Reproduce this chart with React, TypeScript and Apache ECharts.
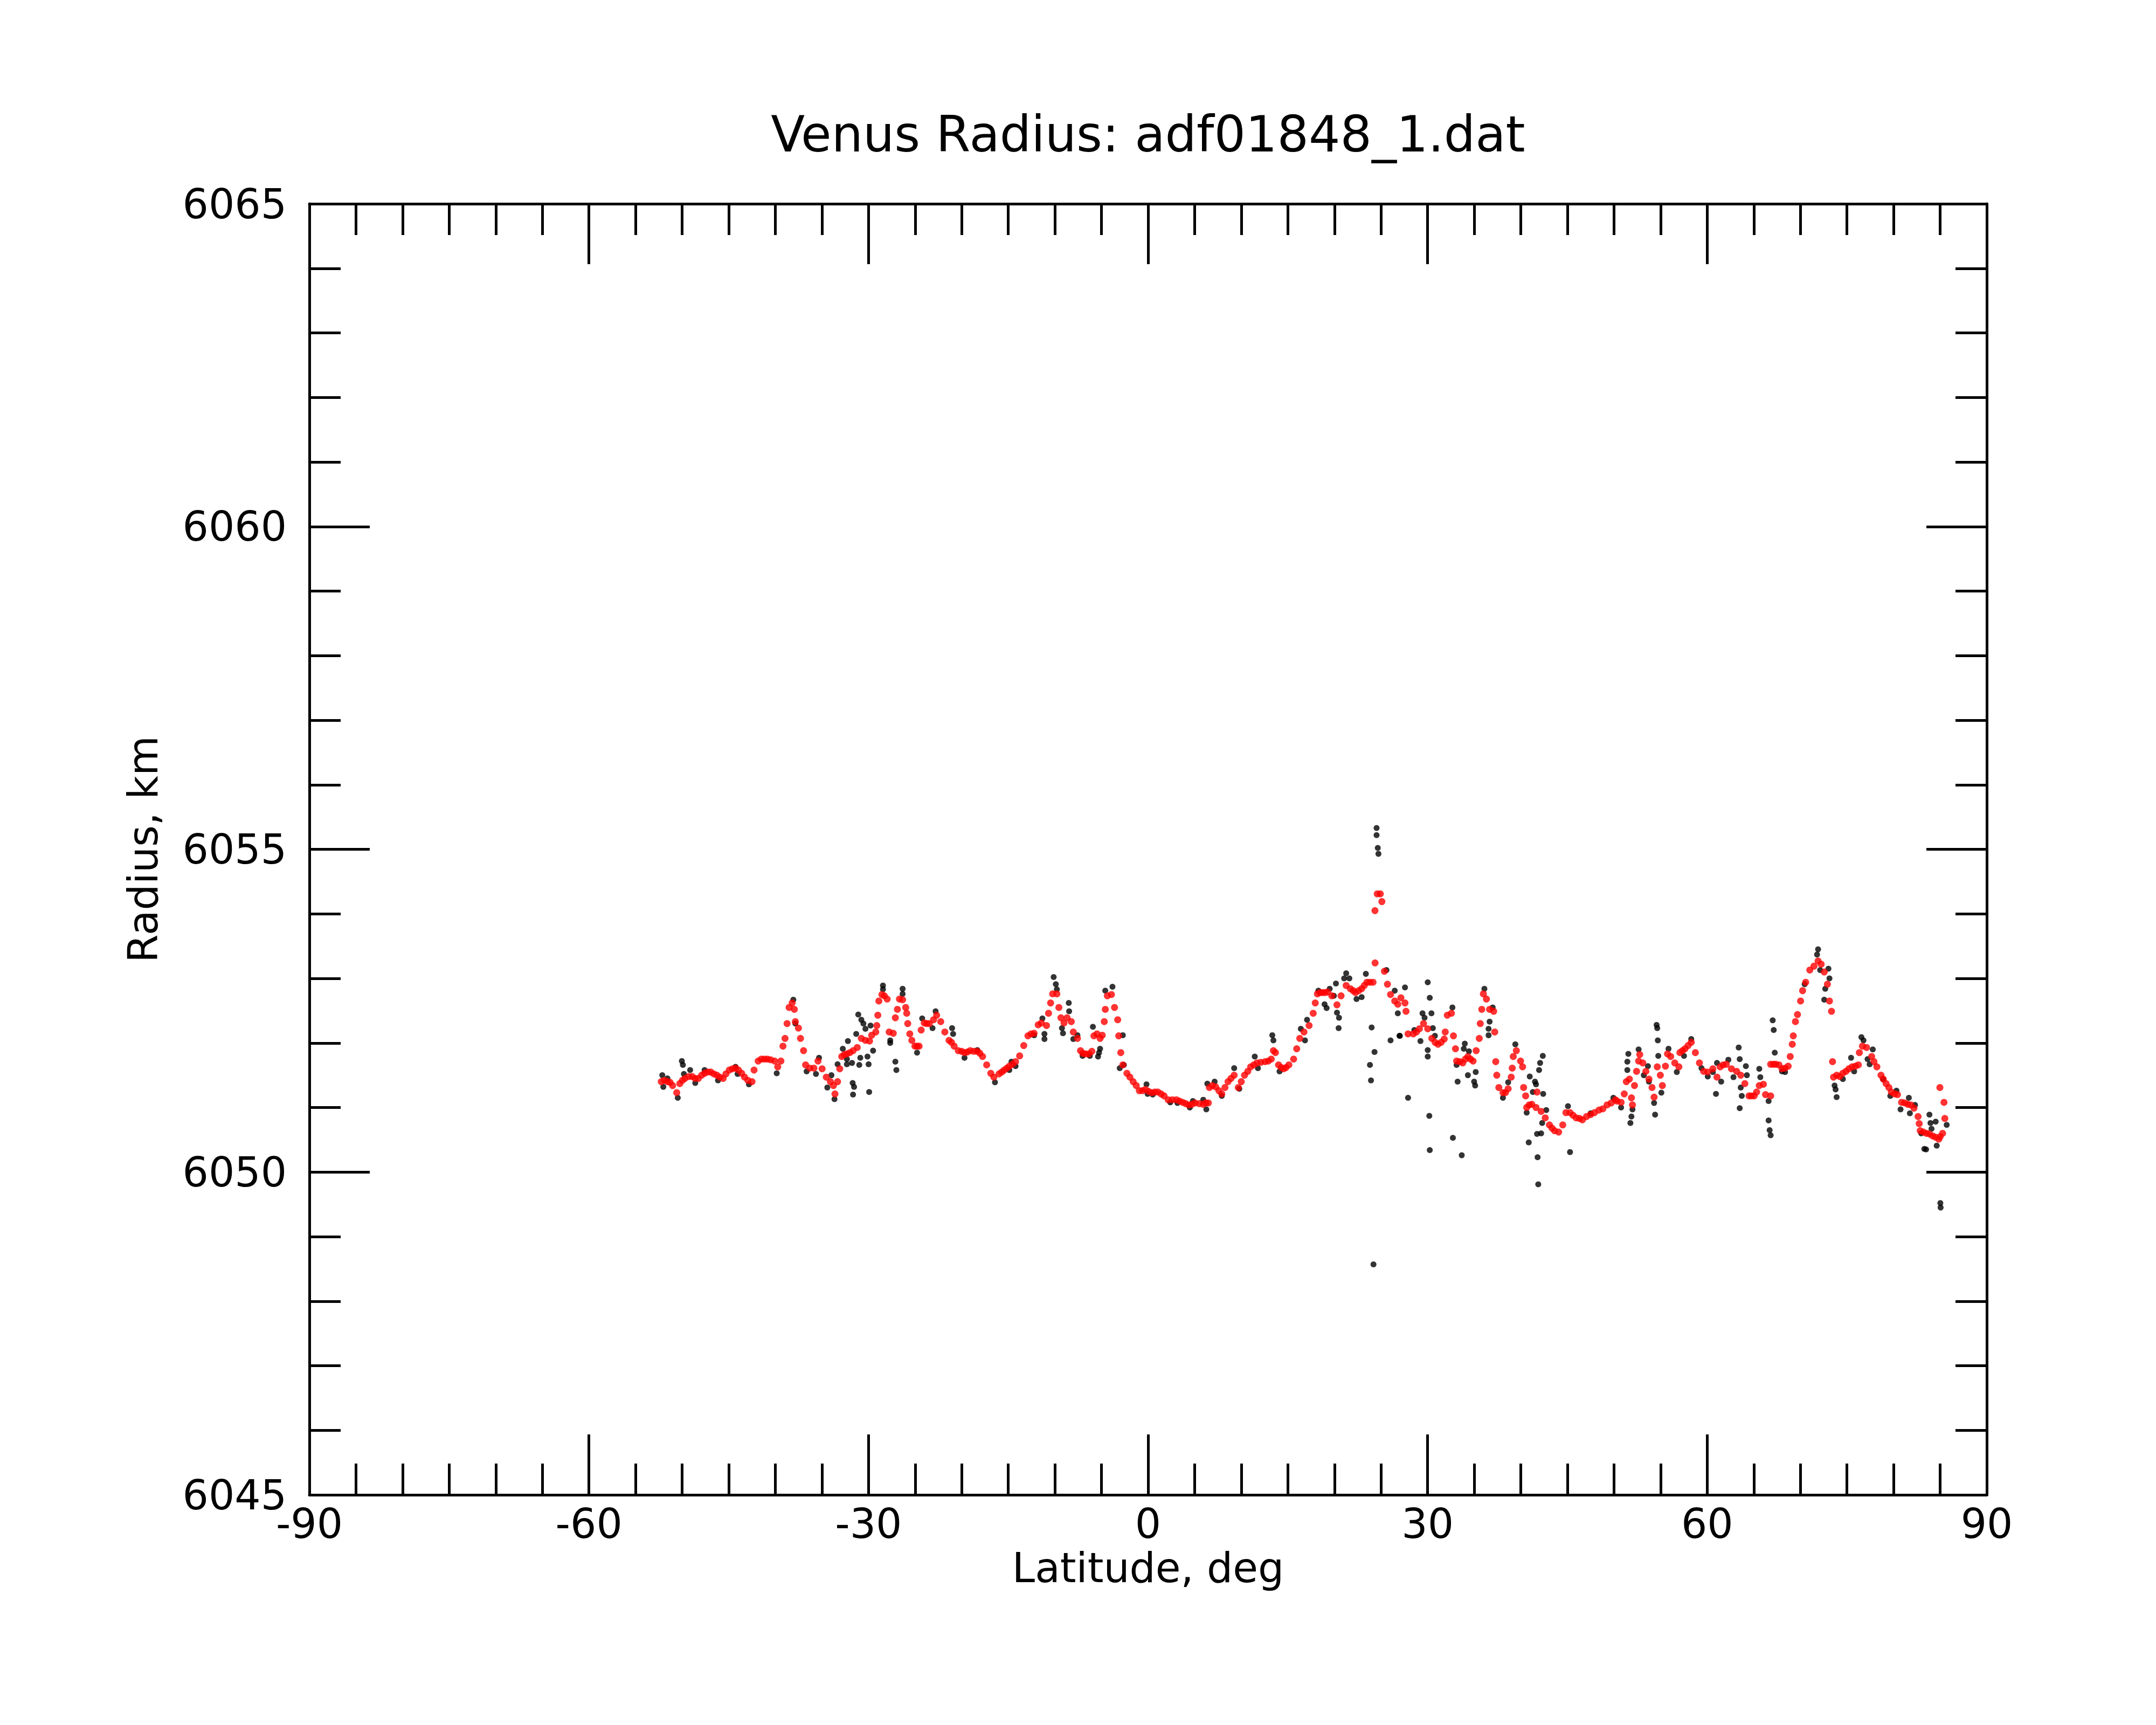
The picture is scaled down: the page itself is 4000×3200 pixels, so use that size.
import React, { useEffect, useRef } from "react";
import * as echarts from "echarts";

const TITLE = "Venus Radius: adf01848_1.dat";
const X_NAME = "Latitude, deg";
const Y_NAME = "Radius, km";
const X_RANGE = [-90, 90];
const X_STEP = 30;
const Y_RANGE = [6045, 6065];
const Y_STEP = 5;

// Filtered radius (red), [latitude, radius]
const RED_SOUTH: [number, number][] = [
  [-52.24, 6051.4], [-51.58, 6051.4], [-51.02, 6051.34], [-50.58, 6051.23], [-50.25, 6051.37],
  [-49.7, 6051.45], [-48.92, 6051.48], [-48.26, 6051.45], [-47.59, 6051.53], [-46.93, 6051.55],
  [-46.27, 6051.5], [-45.6, 6051.45], [-44.94, 6051.58], [-44.27, 6051.61], [-43.61, 6051.53],
  [-42.94, 6051.42], [-42.5, 6051.4], [-42.28, 6051.58], [-41.84, 6051.72], [-41.17, 6051.75],
  [-40.51, 6051.74], [-40.07, 6051.72], [-39.74, 6051.63], [-39.4, 6051.72], [-39.18, 6051.95],
  [-38.96, 6052.07], [-38.74, 6052.3], [-38.52, 6052.55], [-38.19, 6052.62], [-37.96, 6052.52],
  [-37.85, 6052.33], [-37.52, 6052.23], [-37.3, 6052.07], [-36.97, 6051.88], [-36.75, 6051.66],
  [-36.3, 6051.61], [-35.86, 6051.61], [-35.42, 6051.72], [-34.98, 6051.6], [-34.53, 6051.47],
  [-34.09, 6051.4], [-33.76, 6051.34], [-33.6, 6051.21], [-33.32, 6051.4], [-33.09, 6051.6],
  [-32.87, 6051.79], [-32.32, 6051.83], [-31.66, 6051.88], [-31.21, 6051.93], [-30.77, 6052.07],
  [-30.33, 6052.04], [-29.89, 6052.03], [-29.66, 6052.12], [-29.22, 6052.17], [-29.11, 6052.27],
  [-29.0, 6052.43], [-28.89, 6052.65], [-28.56, 6052.75], [-28.0, 6052.68], [-27.78, 6052.17],
  [-27.34, 6052.15], [-27.12, 6052.39], [-26.9, 6052.52], [-26.68, 6052.68], [-26.34, 6052.67],
  [-26.01, 6052.55], [-25.9, 6052.46], [-25.79, 6052.3], [-25.57, 6052.14], [-25.35, 6052.04],
  [-25.02, 6051.95], [-24.57, 6051.95], [-24.35, 6052.2], [-24.02, 6052.31], [-23.47, 6052.3],
  [-23.02, 6052.36], [-22.69, 6052.43], [-22.25, 6052.33], [-21.81, 6052.17], [-21.36, 6052.04],
  [-20.81, 6051.95], [-20.37, 6051.88], [-19.7, 6051.85], [-19.08, 6051.88],
];
const RED_SOUTH_MORE: [number, number][] = [
  [-51.9, 6051.42], [-51.3, 6051.39], [-49.97, 6051.42], [-49.3, 6051.48], [-48.6, 6051.45],
  [-47.9, 6051.5], [-47.25, 6051.55], [-46.6, 6051.52], [-45.95, 6051.47], [-45.3, 6051.52],
  [-44.6, 6051.6], [-43.95, 6051.58], [-43.3, 6051.47], [-41.5, 6051.75], [-40.85, 6051.75],
  [-32.6, 6051.82], [-32.0, 6051.85], [-28.3, 6052.73], [-24.8, 6051.95], [-23.75, 6052.3],
  [-21.1, 6052.01], [-20.0, 6051.87], [-19.4, 6051.86], [-18.7, 6051.87],
];

const RED_EQUATOR: [number, number][] = [
  [-18.32, 6051.87], [-17.76, 6051.79], [-17.32, 6051.66], [-16.88, 6051.53], [-16.55, 6051.47],
  [-15.99, 6051.52], [-15.44, 6051.58], [-14.89, 6051.64], [-14.22, 6051.71], [-13.78, 6051.8],
  [-13.34, 6051.96], [-12.89, 6052.11], [-12.23, 6052.15], [-11.79, 6052.28], [-11.45, 6052.31],
  [-10.9, 6052.27], [-10.68, 6052.46], [-10.46, 6052.62], [-10.24, 6052.76], [-9.79, 6052.76],
  [-9.57, 6052.55], [-9.35, 6052.39], [-9.02, 6052.31], [-8.69, 6052.39], [-8.24, 6052.33],
  [-8.02, 6052.17], [-7.58, 6052.07], [-7.25, 6051.88], [-6.7, 6051.83], [-6.03, 6051.87],
  [-5.81, 6052.11], [-5.48, 6052.14], [-5.15, 6052.07], [-4.92, 6052.12], [-4.7, 6052.33],
  [-4.59, 6052.52], [-4.37, 6052.73], [-3.93, 6052.75], [-3.6, 6052.55], [-3.26, 6052.36],
  [-3.15, 6052.11], [-2.93, 6051.85], [-2.71, 6051.66], [-2.27, 6051.53], [-1.6, 6051.4],
  [-0.94, 6051.26], [-0.28, 6051.28], [0.39, 6051.23], [1.05, 6051.24], [1.72, 6051.18],
  [2.16, 6051.12], [2.6, 6051.12], [3.04, 6051.12], [3.71, 6051.08], [4.37, 6051.04],
  [4.7, 6051.05], [5.04, 6051.07], [5.5, 6051.06], [5.92, 6051.05], [6.47, 6051.07],
  [6.58, 6051.31], [7.25, 6051.32], [7.91, 6051.21], [8.58, 6051.4], [9.24, 6051.5],
  [9.68, 6051.31], [10.35, 6051.5], [11.01, 6051.63], [11.68, 6051.69], [12.56, 6051.71],
  [13.22, 6051.75], [13.45, 6051.88], [13.67, 6051.85], [14.0, 6051.66], [14.55, 6051.6],
  [15.11, 6051.66], [15.62, 6051.75],
];
const RED_EQUATOR_MORE: [number, number][] = [
  [-18.05, 6051.84], [-15.7, 6051.55], [-15.15, 6051.61], [-14.55, 6051.67], [-12.55, 6052.14],
  [-7.0, 6051.84], [-6.35, 6051.83], [-1.95, 6051.47], [-1.27, 6051.34], [-0.6, 6051.26],
  [0.05, 6051.25], [0.72, 6051.24], [1.4, 6051.21], [3.37, 6051.1], [4.04, 6051.06],
  [6.2, 6051.07], [6.9, 6051.34], [7.6, 6051.26], [8.25, 6051.31], [8.9, 6051.45],
  [10.0, 6051.4], [10.7, 6051.56], [11.35, 6051.66], [12.1, 6051.7], [12.9, 6051.72],
  [14.3, 6051.62], [14.8, 6051.62],
];

const RED_MID_NORTH: [number, number][] = [
  [15.95, 6051.91], [16.28, 6052.07], [16.73, 6052.17], [17.28, 6052.27], [17.72, 6052.46],
  [17.94, 6052.62], [18.17, 6052.76], [18.72, 6052.78], [19.27, 6052.79], [19.72, 6052.73],
  [20.27, 6052.59], [20.71, 6052.73], [21.26, 6052.89], [21.71, 6052.84], [22.26, 6052.78],
  [22.92, 6052.84], [23.48, 6052.94], [24.14, 6052.94], [24.36, 6053.24], [24.35, 6054.05],
  [24.59, 6054.31], [24.92, 6054.31], [25.09, 6054.19], [25.36, 6053.11], [25.69, 6052.91],
  [26.02, 6052.75], [26.47, 6052.65], [26.8, 6052.6], [27.13, 6052.7], [27.57, 6052.62],
  [27.68, 6052.49], [27.9, 6052.14], [28.46, 6052.14], [29.12, 6052.22], [29.56, 6052.3],
  [30.01, 6052.22], [30.45, 6052.07], [31.11, 6051.98], [31.78, 6052.06], [31.89, 6052.17],
  [32.11, 6052.43], [32.55, 6052.46], [32.77, 6052.11], [32.99, 6051.91], [33.11, 6051.72],
  [33.77, 6051.69], [34.32, 6051.79], [34.88, 6051.72], [35.21, 6051.88], [35.54, 6052.07],
  [35.65, 6052.3], [35.81, 6052.52], [35.98, 6052.76], [36.31, 6052.68], [36.65, 6052.52],
  [37.09, 6052.49], [37.2, 6052.17], [37.31, 6051.71], [37.42, 6051.5], [37.64, 6051.31],
  [38.09, 6051.23], [38.64, 6051.29], [38.97, 6051.47], [39.08, 6051.61], [39.19, 6051.79],
  [39.52, 6051.88], [39.97, 6051.72], [40.19, 6051.63], [40.3, 6051.31], [40.52, 6051.18],
  [40.63, 6051.0], [41.18, 6051.05], [41.63, 6051.0], [41.74, 6051.24], [42.18, 6050.94],
  [42.62, 6050.84], [43.07, 6050.73], [43.62, 6050.64], [44.06, 6050.62], [44.5, 6050.73],
  [44.84, 6050.92], [45.28, 6050.92], [45.94, 6050.84], [46.61, 6050.81], [47.49, 6050.89],
  [48.38, 6050.96], [49.26, 6051.04], [50.15, 6051.12],
];
const RED_MID_NORTH_MORE: [number, number][] = [
  [18.45, 6052.78], [19.0, 6052.78], [22.0, 6052.81], [22.6, 6052.81], [23.2, 6052.89],
  [23.8, 6052.94], [28.8, 6052.17], [30.8, 6052.01], [31.45, 6052.01], [33.45, 6051.71],
  [34.05, 6051.75], [34.6, 6051.75], [38.35, 6051.23], [40.9, 6051.04], [43.35, 6050.68],
  [45.6, 6050.88], [46.3, 6050.83], [47.05, 6050.86], [47.9, 6050.92], [48.8, 6050.98],
  [49.7, 6051.07],
];

const RED_NORTH: [number, number][] = [
  [50.32, 6051.1], [50.76, 6051.08], [51.1, 6051.21], [51.32, 6051.4], [51.65, 6051.44],
  [51.87, 6051.15], [51.98, 6051.04], [52.2, 6051.34], [52.42, 6051.56], [52.64, 6051.72],
  [52.76, 6051.82], [53.09, 6051.69], [53.42, 6051.56], [53.75, 6051.44], [54.08, 6051.31],
  [54.3, 6051.16], [54.64, 6051.63], [54.97, 6051.5], [55.19, 6051.34], [55.52, 6051.64],
  [55.74, 6051.83], [56.08, 6051.79], [56.52, 6051.69], [56.96, 6051.63], [57.07, 6051.85],
  [57.62, 6051.91], [58.29, 6052.01], [58.73, 6051.85], [59.17, 6051.69], [59.62, 6051.56],
  [60.06, 6051.55], [60.61, 6051.6], [61.05, 6051.47], [61.39, 6051.63], [62.05, 6051.67],
  [62.6, 6051.6], [63.16, 6051.56], [63.6, 6051.5], [64.04, 6051.37], [64.49, 6051.18],
  [65.04, 6051.18], [65.59, 6051.34], [66.03, 6051.36], [66.26, 6051.2], [66.81, 6051.18],
  [66.81, 6051.67], [67.36, 6051.67], [68.03, 6051.6], [68.69, 6051.64], [68.91, 6051.79],
  [69.13, 6051.98], [69.24, 6052.11], [69.47, 6052.33], [69.69, 6052.44], [70.02, 6052.65],
  [70.24, 6052.81], [70.57, 6052.94], [71.01, 6053.13], [71.46, 6053.19], [71.9, 6053.27],
  [72.23, 6053.22], [72.56, 6053.1], [72.9, 6052.91], [73.12, 6052.65], [73.34, 6052.49],
  [73.45, 6051.71], [73.56, 6051.47], [74.22, 6051.48], [74.89, 6051.56], [75.55, 6051.63],
  [76.22, 6051.66], [76.33, 6051.85], [76.66, 6051.95], [77.1, 6051.93], [77.65, 6051.79],
  [78.21, 6051.63], [78.65, 6051.5], [79.2, 6051.37], [79.76, 6051.24], [80.42, 6051.2],
  [80.86, 6051.08], [81.53, 6051.05], [82.19, 6050.99], [82.63, 6050.86], [82.75, 6050.75],
  [82.86, 6050.64], [83.52, 6050.6], [84.18, 6050.56], [84.85, 6050.51], [85.0, 6050.55],
  [85.26, 6050.6], [85.5, 6050.83], [85.41, 6051.08], [84.97, 6051.31],
];
const RED_NORTH_MORE: [number, number][] = [
  [57.35, 6051.88], [57.95, 6051.96], [61.7, 6051.66], [64.75, 6051.18], [65.3, 6051.24],
  [67.1, 6051.67], [67.7, 6051.66], [68.35, 6051.61], [73.9, 6051.5], [74.55, 6051.53],
  [75.2, 6051.6], [75.9, 6051.64], [77.9, 6051.71], [78.9, 6051.44], [79.5, 6051.31],
  [80.1, 6051.21], [81.2, 6051.07], [81.85, 6051.04], [83.2, 6050.62], [83.85, 6050.59],
  [84.5, 6050.54],
];

// Raw radius (black), [latitude, radius]
const BLACK_SOUTH: [number, number][] = [
  [-52.13, 6051.5], [-52.02, 6051.32], [-51.58, 6051.45], [-50.47, 6051.15], [-50.03, 6051.72],
  [-49.92, 6051.66], [-49.81, 6051.52], [-49.14, 6051.58], [-48.59, 6051.38], [-47.59, 6051.58],
  [-46.15, 6051.42], [-44.27, 6051.63], [-44.05, 6051.52], [-42.83, 6051.36], [-39.85, 6051.53],
  [-38.07, 6052.67], [-37.85, 6052.3], [-36.64, 6051.56], [-35.64, 6051.52], [-35.31, 6051.77],
  [-34.42, 6051.31], [-33.98, 6051.5], [-33.65, 6051.13], [-33.32, 6051.67], [-32.76, 6051.91],
  [-32.32, 6051.75], [-32.21, 6052.03], [-32.32, 6051.67], [-31.77, 6051.69], [-31.7, 6051.38],
  [-31.55, 6051.32], [-31.66, 6051.2], [-31.32, 6052.14], [-31.1, 6052.44], [-30.77, 6052.36],
  [-30.55, 6052.3], [-30.33, 6052.22], [-29.78, 6052.27], [-30.88, 6051.77], [-30.99, 6051.66],
  [-30.11, 6051.79], [-29.99, 6051.67], [-29.51, 6051.88], [-29.93, 6051.24], [-28.45, 6052.89],
  [-28.45, 6052.83], [-27.67, 6052.04], [-27.67, 6052.0], [-27.12, 6051.71], [-27.01, 6051.58],
  [-26.34, 6052.84], [-26.34, 6052.76], [-24.79, 6051.85], [-24.24, 6052.38], [-23.13, 6052.23],
  [-22.8, 6052.49], [-21.03, 6052.23], [-20.92, 6052.14], [-19.7, 6051.77],
];

const BLACK_EQUATOR: [number, number][] = [
  [-18.32, 6051.89], [-16.43, 6051.39], [-14.89, 6051.58], [-14.66, 6051.71], [-14.22, 6051.64],
  [-12.23, 6052.12], [-11.34, 6052.38], [-11.12, 6052.14], [-11.12, 6052.06], [-10.13, 6053.02],
  [-9.9, 6052.91], [-9.79, 6052.83], [-9.24, 6052.23], [-9.13, 6052.15], [-8.51, 6052.62],
  [-8.47, 6052.49], [-8.02, 6052.06], [-7.58, 6052.12], [-7.03, 6051.8], [-6.25, 6051.8],
  [-5.92, 6052.25], [-5.37, 6051.79], [-5.26, 6051.85], [-5.15, 6051.91], [-4.59, 6052.81],
  [-3.82, 6052.87], [-2.71, 6052.12], [-3.04, 6051.61], [-2.6, 6051.66], [-0.17, 6051.36],
  [-0.05, 6051.21], [0.5, 6051.2], [2.38, 6051.08], [3.15, 6051.07], [4.48, 6051.0],
  [4.81, 6051.1], [5.92, 6051.12], [6.25, 6050.97], [6.36, 6051.37], [7.14, 6051.4],
  [7.91, 6051.18], [9.24, 6051.61], [9.79, 6051.29], [11.45, 6051.79], [11.79, 6051.61],
  [13.33, 6052.12], [13.45, 6052.04], [14.11, 6051.56],
];

const BLACK_MID_NORTH: [number, number][] = [
  [16.39, 6052.22], [16.84, 6052.04], [17.06, 6052.36], [18.28, 6052.81], [18.94, 6052.6],
  [19.16, 6052.54], [19.49, 6052.84], [19.94, 6052.73], [20.16, 6052.92], [20.27, 6052.47],
  [20.49, 6052.39], [20.45, 6052.23], [21.04, 6053.0], [21.26, 6053.08], [21.6, 6053.0],
  [22.37, 6052.68], [22.92, 6052.71], [23.37, 6053.07], [23.99, 6052.24], [24.3, 6051.86],
  [23.81, 6051.66], [23.92, 6051.42], [24.52, 6055.33], [24.52, 6055.22], [24.65, 6055.02],
  [24.72, 6054.93], [24.19, 6048.57], [25.58, 6053.13], [26.02, 6052.04], [26.98, 6052.11],
  [26.47, 6052.81], [26.8, 6052.46], [27.02, 6052.11], [27.57, 6052.86], [27.9, 6051.15],
  [28.57, 6052.2], [29.23, 6052.03], [29.45, 6052.46], [29.67, 6052.39], [30.01, 6052.94],
  [30.23, 6052.7], [30.41, 6052.46], [30.56, 6052.23], [30.01, 6051.89], [30.01, 6051.79],
  [30.78, 6052.11], [30.18, 6050.87], [30.23, 6050.34], [32.66, 6052.55], [32.71, 6050.53],
  [33.66, 6050.26], [33.22, 6051.4], [33.99, 6051.99], [33.88, 6051.91], [34.32, 6051.5],
  [34.43, 6051.87], [34.99, 6051.4], [35.1, 6051.34], [35.16, 6051.55], [33.11, 6051.66],
  [36.09, 6052.84], [36.98, 6052.55], [36.65, 6052.33], [36.54, 6052.22], [36.54, 6052.12],
  [38.08, 6051.15], [38.64, 6051.39], [39.41, 6051.98], [40.96, 6051.48], [41.52, 6051.4],
  [41.63, 6051.36], [41.29, 6051.24], [42.36, 6051.8], [42.07, 6051.69], [41.96, 6051.58],
  [42.4, 6051.21], [40.85, 6050.46], [41.74, 6050.59], [42.18, 6050.6], [42.29, 6050.76],
  [41.8, 6050.23], [41.87, 6049.81], [40.63, 6050.92], [42.73, 6050.96], [45.06, 6051.02],
  [45.28, 6050.31], [47.49, 6050.91], [49.93, 6051.15],
];

const BLACK_NORTH: [number, number][] = [
  [50.76, 6051.0], [51.43, 6051.71], [51.54, 6051.83], [51.43, 6051.58], [51.76, 6050.76],
  [51.87, 6050.86], [51.98, 6050.97], [52.64, 6051.9], [53.2, 6051.5], [53.64, 6051.64],
  [53.75, 6051.4], [54.3, 6051.07], [54.41, 6050.89], [54.57, 6052.28], [54.64, 6052.23],
  [54.7, 6052.04], [54.75, 6051.8], [55.08, 6051.23], [55.85, 6051.91], [56.74, 6051.55],
  [57.51, 6051.8], [58.29, 6052.06], [59.39, 6051.61], [60.06, 6051.48], [60.61, 6051.55],
  [60.94, 6051.21], [61.05, 6051.69], [61.5, 6051.4], [62.27, 6051.74], [62.82, 6051.47],
  [63.38, 6051.93], [63.49, 6051.75], [63.6, 6051.31], [63.49, 6050.99], [63.71, 6051.18],
  [64.15, 6051.64], [64.26, 6051.5], [65.59, 6051.6], [65.7, 6051.47], [66.59, 6051.1],
  [66.59, 6050.8], [66.7, 6050.65], [66.81, 6050.57], [67.03, 6052.35], [67.14, 6052.2],
  [67.25, 6051.85], [68.03, 6051.56], [68.36, 6051.55], [70.46, 6052.91], [71.9, 6053.45],
  [71.79, 6053.37], [72.12, 6053.13], [73.01, 6053.15], [73.12, 6053.0], [72.67, 6052.84],
  [72.56, 6052.67], [73.67, 6051.34], [73.78, 6051.28], [73.89, 6051.16], [74.56, 6051.44],
  [75.44, 6051.77], [75.77, 6051.56], [76.55, 6052.09], [76.77, 6052.04], [77.21, 6051.75],
  [77.43, 6051.67], [77.77, 6051.9], [78.87, 6051.44], [79.65, 6051.18], [80.31, 6051.26],
  [80.75, 6050.97], [81.64, 6051.15], [81.75, 6050.91], [82.3, 6051.04], [82.97, 6050.6],
  [83.3, 6050.36], [83.49, 6050.35], [83.85, 6050.89], [83.96, 6050.76], [84.07, 6050.67],
  [84.63, 6050.41], [84.52, 6050.78], [85.7, 6050.73], [85.02, 6049.52], [85.05, 6049.45],
];

const FONT = "DejaVu Sans";
const INK = "#000000";

export default function App() {
  const ref = useRef<HTMLDivElement>(null);

  useEffect(() => {
    document.body.style.margin = "0";
    if (!ref.current) return;
    const chart = echarts.init(ref.current, undefined, { renderer: "svg" });

    const gridLeft = 574;
    const gridRight = 314;
    const width = 4000;
    const plotCenterX = gridLeft + (width - gridLeft - gridRight) / 2;

    const lineStyle = { color: INK, width: 5 };
    const plain = (v: number) => String(v);
    const mkX = (position: "bottom" | "top", labels: boolean) => ({
      type: "value" as const,
      position,
      min: X_RANGE[0],
      max: X_RANGE[1],
      interval: X_STEP,
      axisLine: { show: true, onZero: false, lineStyle },
      axisTick: { show: true, inside: true, length: 112, lineStyle },
      minorTick: { show: true, splitNumber: 6, length: 58, lineStyle },
      splitLine: { show: false },
      minorSplitLine: { show: false },
      axisLabel: {
        show: labels,
        fontSize: 76,
        color: INK,
        fontFamily: FONT,
        margin: 15,
        formatter: plain,
      },
      name: labels ? X_NAME : "",
      nameLocation: "middle" as const,
      nameGap: 97,
      nameTextStyle: { fontSize: 76, color: INK, fontFamily: FONT },
    });
    const mkY = (position: "left" | "right", labels: boolean) => ({
      type: "value" as const,
      position,
      min: Y_RANGE[0],
      max: Y_RANGE[1],
      interval: Y_STEP,
      axisLine: { show: true, onZero: false, lineStyle },
      axisTick: { show: true, inside: true, length: 112, lineStyle },
      minorTick: { show: true, splitNumber: 5, length: 58, lineStyle },
      splitLine: { show: false },
      minorSplitLine: { show: false },
      axisLabel: {
        show: labels,
        fontSize: 76,
        color: INK,
        fontFamily: FONT,
        margin: 42,
        formatter: plain,
      },
      name: labels ? Y_NAME : "",
      nameLocation: "middle" as const,
      nameRotate: 90,
      nameGap: 271,
      nameTextStyle: { fontSize: 76, color: INK, fontFamily: FONT },
    });

    chart.setOption({
      animation: false,
      backgroundColor: "#ffffff",
      graphic: [
        {
          type: "text",
          x: plotCenterX,
          y: 249,
          style: {
            text: TITLE,
            fontSize: 92,
            fontFamily: FONT,
            fill: INK,
            textAlign: "center",
            textVerticalAlign: "middle",
          },
        },
      ],
      grid: { left: gridLeft, right: gridRight, top: 378, bottom: 427, containLabel: false },
      xAxis: [mkX("bottom", true), mkX("top", false)],
      yAxis: [mkY("left", true), mkY("right", false)],
      series: [
        {
          type: "scatter",
          name: "raw",
          xAxisIndex: 0,
          yAxisIndex: 0,
          symbol: "circle",
          symbolSize: 11,
          itemStyle: { color: INK },
          data: [...BLACK_SOUTH, ...BLACK_EQUATOR, ...BLACK_MID_NORTH, ...BLACK_NORTH],
          z: 2,
        },
        {
          type: "scatter",
          name: "filtered",
          xAxisIndex: 0,
          yAxisIndex: 0,
          symbol: "circle",
          symbolSize: 13,
          itemStyle: { color: "#ff0000" },
          data: [
            ...RED_SOUTH, ...RED_SOUTH_MORE,
            ...RED_EQUATOR, ...RED_EQUATOR_MORE,
            ...RED_MID_NORTH, ...RED_MID_NORTH_MORE,
            ...RED_NORTH, ...RED_NORTH_MORE,
          ],
          z: 3,
        },
      ],
    });

    return () => chart.dispose();
  }, []);

  return <div ref={ref} style={{ width: 4000, height: 3200, background: "#fff" }} />;
}
